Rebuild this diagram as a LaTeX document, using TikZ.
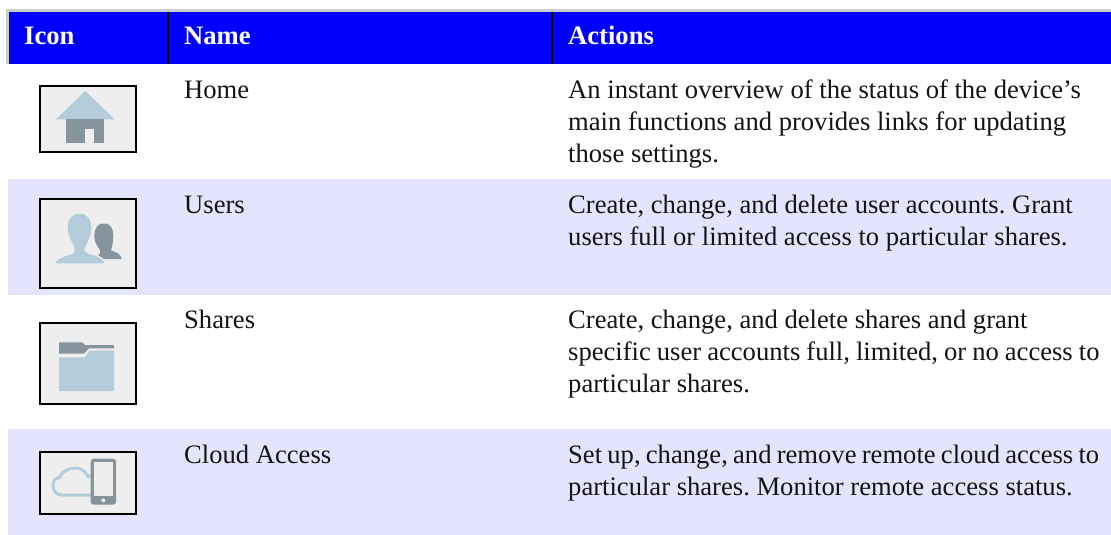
\documentclass[tikz,border=0pt]{standalone}
\usepackage{fontspec}
\setmainfont{Liberation Serif}
\frenchspacing
\definecolor{hdr}{RGB}{0,0,255}
\definecolor{band}{RGB}{228,228,252}
\definecolor{rule}{RGB}{204,204,204}
\definecolor{iconbg}{RGB}{238,238,238}
\definecolor{lblue}{RGB}{180,204,218}
\definecolor{dgray}{RGB}{133,148,157}
\definecolor{ink}{RGB}{20,20,20}
\tikzset{
  x=1pt,y=-1pt,
  headtext/.style={anchor=base west,inner sep=0pt,text=white,font=\fontsize{26.6}{32}\selectfont\bfseries},
  bodytext/.style={anchor=base west,inner sep=0pt,text=ink,font=\fontsize{26.6}{32}\selectfont,align=left},
  iconbox/.style={draw=black,line width=2pt,fill=iconbg},
  light/.style={fill=lblue,draw=none},
  dark/.style={fill=dgray,draw=none}
}
\begin{document}
\begin{tikzpicture}
\useasboundingbox (0,0) rectangle (1111,535);
\fill[white] (0,0) rectangle (1111,535);
% header
\fill[rule] (6,9) rectangle (1111,64);
\fill[hdr] (9,12) rectangle (1111,64);
\fill[black] (167.2,12) rectangle (168.8,64);
\fill[black] (551.2,12) rectangle (552.8,64);
% bands
\fill[band] (8,179) rectangle (1111,295);
\fill[band] (8,429) rectangle (1111,535);
% header text
\node[headtext] (h1) at (24,45) {Icon};
\node[headtext] (h2) at (184,45) {Name};
\node[headtext] (h3) at (568,45) {Actions};
% row text
\node[bodytext] (n1) at (184,98) {Home};
\node[bodytext] (n2) at (184,213) {Users};
\node[bodytext] (n3) at (184,328.5) {Shares};
\node[bodytext] (n4) at (184,463) {Cloud Access};
\node[bodytext,anchor=north west] (a1) at (568,79.8) {An instant overview of the status of the device’s\\main functions and provides links for updating\\those settings.};
\node[bodytext,anchor=north west] (a2) at (568,194.8) {Create, change, and delete user accounts. Grant\\users full or limited access to particular shares.};
\node[bodytext,anchor=north west] (a3) at (568,310.3) {Create, change, and delete shares and grant\\{\spaceskip=6.03pt specific user accounts full, limited, or no access to}\\particular shares.};
\node[bodytext,anchor=north west] (a4) at (568,444.8) {{\spaceskip=5.25pt Set up, change, and remove remote cloud access to}\\particular shares. Monitor remote access status.};
% icon: home
\draw[iconbox] (40.3,86) rectangle (135.7,151.7);
\fill[light] (85.3,91) -- (114.7,119.3) -- (56,119.3) -- cycle;
\fill[dark] (66.3,119.3) rectangle (104.3,142.7);
\fill[iconbg] (85,129.3) rectangle (93.7,142.7);
% icon: users
\draw[iconbox] (40.3,199) rectangle (135.7,287.7);
\fill[dark] (104,223.5) .. controls (97,223.5) and (94.3,229) .. (94.3,236) .. controls (94.3,243) and (98,247) .. (100,250) .. controls (101,253) and (100,254) .. (98,255) -- (104,259) -- (121.7,259) .. controls (121,254) and (116,252) .. (111,250.5) .. controls (112,247) and (113.3,242) .. (113.3,236) .. controls (113.3,229) and (111,223.5) .. (104,223.5) -- cycle;
\path[light,draw=iconbg,line width=1.2pt] (79.5,213) .. controls (70,213) and (67,220) .. (67,228) .. controls (67,236) and (72,243) .. (74,248) .. controls (75,252) and (72,254) .. (67,255) .. controls (60,257) and (55,260) .. (54,264) -- (105.7,264) .. controls (104,259) and (99,256) .. (93,254.5) .. controls (88,253) and (85,252) .. (85,249) .. controls (87,244) and (92,237) .. (92,228) .. controls (92,219) and (88,213) .. (79.5,213) -- cycle;
% icon: shares
\draw[iconbox] (40.3,323.3) rectangle (135.7,404.3);
\fill[dark] (59,342.3) -- (82,342.3) -- (85,345) -- (114,345) -- (114,348.3) -- (89,348.3) -- (84,353.5) -- (59,353.5) -- cycle;
\fill[light] (59,357.3) -- (85,357.3) -- (89.3,350.7) -- (114,350.7) -- (114,391) -- (59,391) -- cycle;
% icon: cloud access
\draw[iconbox] (40.3,452) rectangle (135.7,513.7);
\draw[lblue,line width=3pt,line join=round] (91,495) -- (62,495) .. controls (51,495) and (50,478) .. (59,478) .. controls (63,470) and (70,468) .. (75,468) .. controls (83,468) and (86,473) .. (88,477) .. controls (89,477) and (90,476) .. (91,475.5);
\fill[dark,rounded corners=3pt] (90.7,458.7) rectangle (116,504.7);
\fill[iconbg] (94,462.3) rectangle (112.7,495.7);
\fill[iconbg] (103.3,500.3) circle (2pt);
\end{tikzpicture}
\end{document}
